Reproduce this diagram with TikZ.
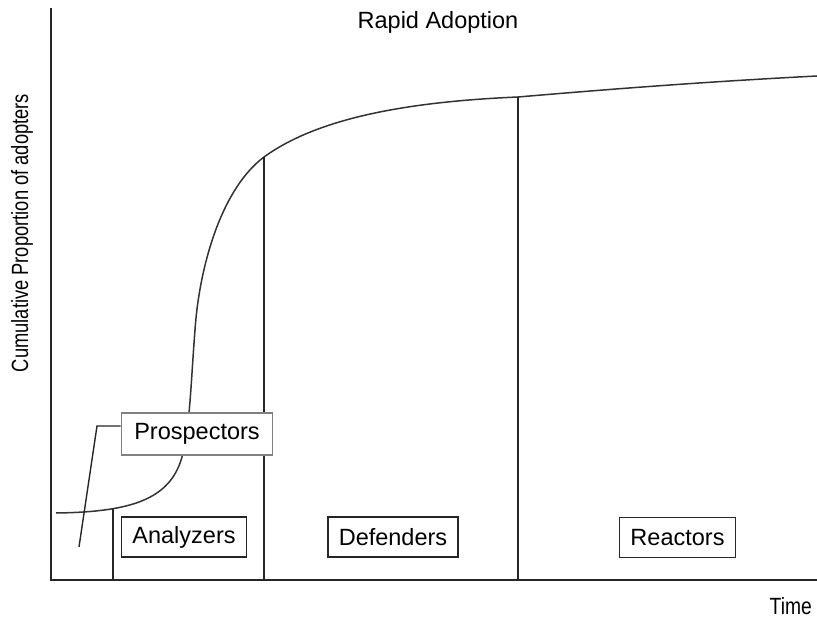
\documentclass[tikz,border=0pt]{standalone}
\usepackage{fontspec}
\setmainfont{Liberation Sans}
\begin{document}
\begin{tikzpicture}[x=1pt,y=-1pt,
  every node/.style={font=\fontsize{23.5}{28}\selectfont, text=black},
  axisline/.style={line width=1.8pt, black!85},
  divider/.style={line width=1.6pt, black!85},
  adoption/.style={line width=1.5pt, black!80},
  segbox/.style={draw=black!85, line width=1.5pt, fill=white, inner xsep=11pt, minimum height=40pt},
  leader/.style={line width=1.4pt, black!85}
]
\useasboundingbox (0,0) rectangle (817,620);

% axes
\coordinate (ytop) at (51,8);
\coordinate (origin) at (51,580);
\coordinate (xend) at (817,580);
\draw[axisline] (ytop) -- (origin) -- (xend);

% cumulative adoption curve
\coordinate (c0) at (56,513);
\coordinate (c1) at (182,457);
\coordinate (c2) at (195,330);
\coordinate (c3) at (264,157);
\coordinate (c4) at (518,97);
\coordinate (c5) at (817,76);
\coordinate (cA) at (113,509);
\draw[adoption] (c0) .. controls (130,512) and (170,500) .. (c1)
  .. controls (190,428) and (191,380) .. (c2)
  .. controls (199,270) and (220,190) .. (c3)
  .. controls (315,120) and (400,102) .. (c4)
  .. controls (600,90) and (700,82) .. (c5);

% segment dividers
\coordinate (bA) at (113,580);
\coordinate (bB) at (264,580);
\coordinate (bC) at (518,580);
\draw[divider] (cA) -- (bA);
\draw[divider] (c3) -- (bB);
\draw[divider] (c4) -- (bC);

% labels
\node (title) at (438,22) {Rapid Adoption};
\node[anchor=east, inner sep=0pt] (time) at (812,606) {\scalebox{0.82}[1]{Time}};
\node[rotate=90, inner sep=0pt] (ylab) at (22,233) {\scalebox{0.78}[1]{Cumulative Proportion of adopters}};

% segment boxes
\node[segbox] (analyzers) at (184,537) {Analyzers};
\node[segbox] (defenders) at (393,537) {Defenders};
\node[segbox] (reactors) at (677.5,537.5) {Reactors};
\node[segbox, draw=black!50, inner xsep=13pt, minimum height=42pt] (prospectors) at (197,434) {Prospectors};

% leader from the Prospectors box
\coordinate (l1) at (97,426);
\coordinate (l2) at (79,547);
\draw[leader] (prospectors.west |- l1) -- (l1) -- (l2);
\end{tikzpicture}
\end{document}
